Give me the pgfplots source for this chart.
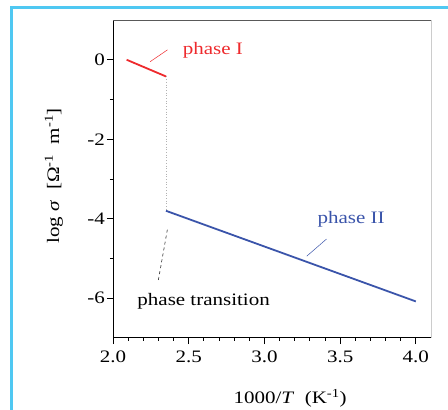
\documentclass[border=0pt]{standalone}
\usepackage{fontspec}
\setmainfont[FakeStretch=1.2]{Liberation Serif}
\usepackage{pgfplots}
\pgfplotsset{compat=1.18}
\definecolor{frameblue}{HTML}{4FC8F2}
\definecolor{redI}{HTML}{EE2A2D}
\definecolor{blueII}{HTML}{3A54AA}
\begin{document}
\fontsize{17.5}{20}\selectfont
\begin{tikzpicture}[x=1pt,y=1pt]
\useasboundingbox (0,0) rectangle (448,410);
\begin{scope}
\clip (0,0) rectangle (448,410);
\draw[frameblue, line width=3pt] (11.5,-20) -- (11.5,402.5) -- (470,402.5);
\end{scope}
\begin{axis}[
  at={(113pt,72pt)}, anchor=south west, scale only axis,
  width=318pt, height=318pt,
  xmin=2, xmax=4.1, ymin=-7, ymax=1,
  axis lines=left, axis line style={-, black, line width=1pt},
  tick align=outside,
  major tick length=6pt, minor tick length=3pt,
  every tick/.style={black, line width=0.8pt},
  xtick={2,2.5,3,3.5,4}, minor x tick num=4,
  ytick={-6,-4,-2,0}, minor y tick num=1,
  /pgf/number format/assume math mode=true,
  xticklabel style={/pgf/number format/fixed, /pgf/number format/fixed zerofill, /pgf/number format/precision=1, inner sep=2pt, yshift=-5pt},
  yticklabel style={inner sep=2pt},
  xlabel={1000/\textit{T}\ \ (K\textsuperscript{-1})},
  ylabel={log \textit{σ}\ \ [Ω\textsuperscript{-1}\ \ m\textsuperscript{-1}]},
  xlabel style={at={(axis description cs:0.557,0)}, anchor=center, yshift=-60pt},
  ylabel style={at={(axis description cs:-0.186,0.51)}, anchor=center},
  clip=false,
]
\draw[gray!70!black, line width=0.8pt] (rel axis cs:0,1) -- (rel axis cs:1,1);
\draw[gray!40, line width=0.8pt] (rel axis cs:1,1) -- (rel axis cs:1,0);
% phase I
\addplot[redI, line width=1.8pt] coordinates {(2.09,0.0) (2.35,-0.42)};
% transition dotted
\addplot[gray!60, line width=0.7pt, dotted] coordinates {(2.35,-0.42) (2.35,-3.80)};
% phase II
\addplot[blueII, line width=1.8pt] coordinates {(2.35,-3.80) (4.00,-6.08)};
% pointers
\addplot[redI, line width=0.5pt] coordinates {(2.245,-0.05) (2.36,0.25)};
\addplot[blueII, line width=0.5pt] coordinates {(3.41,-4.51) (3.28,-4.94)};
\addplot[black, line width=0.5pt, dashed] coordinates {(2.30,-5.54) (2.36,-4.25)};
\node[redI, anchor=west, inner sep=0pt] at (axis cs:2.46,0.25) {phase I};
\node[blueII, anchor=west, inner sep=0pt] at (axis cs:3.35,-4.02) {phase II};
\node[black, anchor=west, inner sep=0pt] at (axis cs:2.16,-6.07) {phase transition};
\end{axis}
\end{tikzpicture}
\end{document}
